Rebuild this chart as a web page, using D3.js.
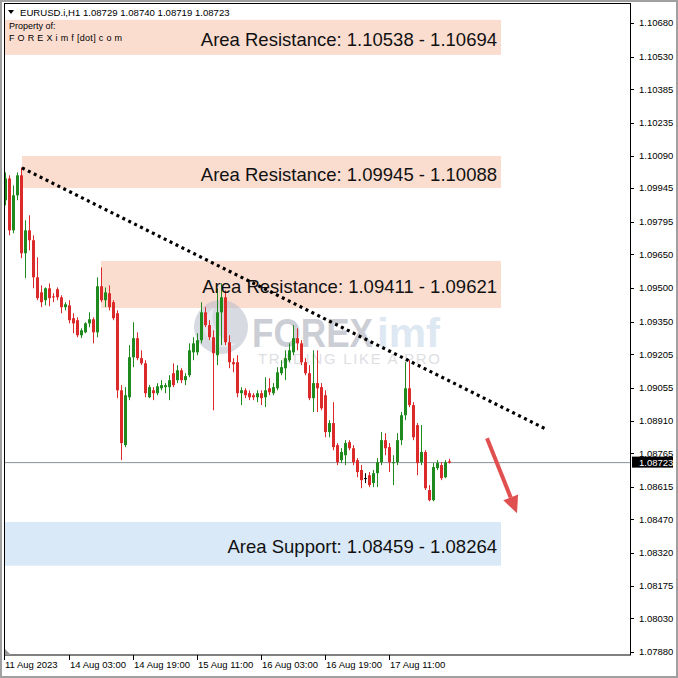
<!DOCTYPE html>
<html><head><meta charset="utf-8">
<script src="https://cdn.jsdelivr.net/npm/d3@7"></script>
<style>body{margin:0;background:#fff}svg{display:block}</style>
</head><body>
<svg id="c" width="678" height="678"></svg>
<script>
const opens=[1.09891,1.09988,1.09757,1.09913,1.10002,1.09655,1.09757,1.09713,1.09548,1.09481,1.09446,1.09499,1.09463,1.09495,1.09459,1.09415,1.09423,1.09366,1.09357,1.09290,1.09303,1.09343,1.09361,1.09303,1.09508,1.09446,1.09477,1.09437,1.09388,1.09045,1.08801,1.09014,1.09192,1.09277,1.09188,1.09165,1.09014,1.09045,1.09032,1.09054,1.09059,1.09059,1.09121,1.09090,1.09134,1.09090,1.09112,1.09214,1.09214,1.09268,1.09392,1.09335,1.09281,1.09201,1.09392,1.09459,1.09259,1.09170,1.09170,1.09032,1.09045,1.09032,1.09023,1.09014,1.09032,1.09014,1.09054,1.09032,1.09054,1.09121,1.09143,1.09179,1.09214,1.09277,1.09254,1.09170,1.09121,1.09010,1.09077,1.09059,1.09023,1.08859,1.08899,1.08801,1.08734,1.08756,1.08814,1.08787,1.08734,1.08690,1.08654,1.08667,1.08632,1.08676,1.08725,1.08823,1.08792,1.08721,1.08725,1.08823,1.08934,1.09054,1.08979,1.08890,1.08725,1.08770,1.08601,1.08556,1.08698,1.08712,1.08658,1.08729];
const highs=[1.10015,1.10002,1.09957,1.10015,1.10037,1.09802,1.09824,1.09735,1.09637,1.09512,1.09503,1.09521,1.09477,1.09503,1.09468,1.09437,1.09446,1.09388,1.09370,1.09321,1.09348,1.09392,1.09370,1.09548,1.09592,1.09503,1.09512,1.09446,1.09401,1.09068,1.09059,1.09246,1.09348,1.09303,1.09223,1.09179,1.09068,1.09059,1.09077,1.09090,1.09077,1.09112,1.09165,1.09157,1.09143,1.09121,1.09254,1.09281,1.09299,1.09437,1.09415,1.09357,1.09312,1.09499,1.09521,1.09490,1.09290,1.09188,1.09201,1.09059,1.09054,1.09045,1.09032,1.09045,1.09045,1.09103,1.09099,1.09077,1.09148,1.09179,1.09223,1.09254,1.09335,1.09321,1.09268,1.09188,1.09157,1.09223,1.09223,1.09077,1.09045,1.08912,1.08992,1.08810,1.08787,1.08823,1.08823,1.08801,1.08743,1.08712,1.08676,1.08681,1.08690,1.08743,1.08859,1.08854,1.08810,1.08756,1.08854,1.08948,1.09170,1.09179,1.08992,1.08899,1.08890,1.08778,1.08623,1.08721,1.08734,1.08725,1.08734,1.08740];
const lows=[1.09868,1.09735,1.09744,1.09891,1.09633,1.09544,1.09668,1.09499,1.09446,1.09415,1.09423,1.09419,1.09437,1.09446,1.09388,1.09401,1.09343,1.09299,1.09281,1.09277,1.09299,1.09326,1.09254,1.09281,1.09437,1.09415,1.09401,1.09357,1.09010,1.08734,1.08792,1.09001,1.09148,1.09179,1.09157,1.09014,1.09010,1.09001,1.09023,1.09045,1.09032,1.09001,1.09059,1.09077,1.09077,1.09068,1.09103,1.09179,1.09201,1.09254,1.09326,1.09268,1.08956,1.09157,1.09246,1.09246,1.09143,1.09125,1.09014,1.08979,1.09010,1.09001,1.09001,1.08992,1.08979,1.08970,1.09023,1.09023,1.09045,1.09112,1.09090,1.09170,1.09201,1.09223,1.09157,1.09112,1.09001,1.08948,1.08948,1.08956,1.08836,1.08836,1.08778,1.08712,1.08721,1.08712,1.08778,1.08712,1.08658,1.08609,1.08632,1.08614,1.08614,1.08614,1.08712,1.08756,1.08681,1.08623,1.08712,1.08801,1.08912,1.08970,1.08823,1.08667,1.08712,1.08601,1.08551,1.08551,1.08690,1.08645,1.08654,1.08719];
const closes=[1.09988,1.09757,1.09913,1.10002,1.09655,1.09757,1.09713,1.09548,1.09455,1.09437,1.09499,1.09455,1.09459,1.09459,1.09415,1.09428,1.09357,1.09343,1.09290,1.09312,1.09343,1.09361,1.09303,1.09508,1.09446,1.09481,1.09415,1.09366,1.09045,1.08810,1.09023,1.09192,1.09277,1.09188,1.09165,1.09032,1.09059,1.09032,1.09063,1.09068,1.09068,1.09090,1.09068,1.09134,1.09090,1.09108,1.09223,1.09254,1.09268,1.09392,1.09335,1.09281,1.09210,1.09392,1.09459,1.09259,1.09170,1.09161,1.09032,1.09045,1.09023,1.09014,1.09014,1.09032,1.09010,1.09045,1.09036,1.09059,1.09125,1.09148,1.09188,1.09223,1.09277,1.09254,1.09170,1.09121,1.09010,1.09077,1.09054,1.08965,1.08859,1.08899,1.08792,1.08725,1.08770,1.08810,1.08787,1.08725,1.08681,1.08645,1.08654,1.08623,1.08676,1.08725,1.08823,1.08787,1.08725,1.08725,1.08823,1.08934,1.09054,1.08979,1.08836,1.08721,1.08770,1.08609,1.08556,1.08703,1.08721,1.08654,1.08725,1.08723];

const timeLabels=["11 Aug 2023","14 Aug 03:00","14 Aug 19:00","15 Aug 11:00","16 Aug 03:00","16 Aug 19:00","17 Aug 11:00"];
const timeLabelBars=[-0.25,16,32,48,64,80,96];
const priceTicks=[1.10680,1.10530,1.10385,1.10235,1.10090,1.09945,1.09795,1.09650,1.09500,1.09350,1.09205,1.09055,1.08910,1.08765,1.08615,1.08470,1.08320,1.08175,1.08030,1.07880];

const zoneLow=[1.10538,1.09945,1.09411,1.08264];
const zoneHigh=[1.10694,1.10088,1.09621,1.08459];
const zoneStartBar=[-0.25,4.25,24,-0.25];
const zoneEndBar=[124,124,124,124];
const zoneLabels=["Area Resistance: 1.10538 - 1.10694","Area Resistance: 1.09945 - 1.10088","Area Resistance: 1.09411 - 1.09621","Area Support: 1.08459 - 1.08264"];
const zoneKind=["res","res","res","sup"];

const trendBars=[4.25,135.5];
const trendPrices=[1.10035,1.08870];
const arrowBars=[120.5,128];
const arrowPrices=[1.08832,1.08498];

const symbol="EURUSD.i,H1";
const lastOHLC=[1.08729,1.08740,1.08719,1.08723];
const currentPrice=1.08723;

const svg=d3.select("#c");
const L=4,R=630,T=3.5,B=655;
const x=d3.scaleLinear().domain([-0.25,156.25]).range([L,R]);
const y=d3.scaleLinear().domain([1.07880,1.10680]).range([652,23]);

svg.append("rect").attr("width",678).attr("height",678).attr("fill","#fff");
svg.append("defs").append("clipPath").attr("id","pa").append("rect")
  .attr("x",L).attr("y",T).attr("width",R-L).attr("height",B-T);
const plot=svg.append("g").attr("clip-path","url(#pa)");

// zones
const zones=zoneLow.map((lo,i)=>({lo,hi:zoneHigh[i],s:zoneStartBar[i],e:zoneEndBar[i],t:zoneLabels[i],k:zoneKind[i]}));
plot.selectAll("rect.z").data(zones).join("rect")
  .attr("x",d=>x(d.s)).attr("width",d=>x(d.e)-x(d.s))
  .attr("y",d=>y(Math.max(d.lo,d.hi))).attr("height",d=>Math.abs(y(d.lo)-y(d.hi)))
  .attr("fill",d=>d.k==="res"?"#FBDDD0":"#D9E9F8");

// watermark
const wm=plot.append("g").attr("opacity",0.55);
wm.append("circle").attr("cx",221).attr("cy",327).attr("r",27).attr("fill","#b9bccb");
wm.append("path").attr("d","M214,308 a20,20 0 1 0 22,36 a27,27 0 0 1 -22,-36z").attr("fill","#d8dae3");
wm.append("text").attr("x",252).attr("y",347).attr("font-family","Liberation Sans, Arial").attr("font-weight","bold")
  .attr("font-size",41).attr("fill","#a3a7b4").attr("textLength",121).attr("lengthAdjust","spacingAndGlyphs").text("FOREX");
wm.append("text").attr("x",377).attr("y",347).attr("font-family","Liberation Sans, Arial").attr("font-weight","bold")
  .attr("font-size",41).attr("fill","#c3d6e8").attr("textLength",63).attr("lengthAdjust","spacingAndGlyphs").text("imf");
wm.append("text").attr("x",258).attr("y",364).attr("font-family","Liberation Sans, Arial")
  .attr("font-size",15).attr("fill","#c4c6cc").attr("textLength",182).attr("lengthAdjust","spacing").text("TRADING LIKE A PRO");

// current price line
plot.append("line").attr("x1",L).attr("x2",R).attr("y1",y(currentPrice)).attr("y2",y(currentPrice))
  .attr("stroke","#8a9199").attr("stroke-width",1);

// candles
const bars=opens.map((o,i)=>({i,o,h:highs[i],l:lows[i],c:closes[i]}));
const col=d=>d.c>d.o?"#1f8b1f":(d.c<d.o?"#dc2a2a":"#000");
const cg=plot.selectAll("g.k").data(bars).join("g");
cg.append("line").attr("x1",d=>Math.round(x(d.i))+0.5).attr("x2",d=>Math.round(x(d.i))+0.5)
  .attr("y1",d=>y(d.h)).attr("y2",d=>y(d.l)).attr("stroke",col).attr("stroke-width",1);
cg.append("rect").attr("x",d=>Math.round(x(d.i))-1).attr("width",3)
  .attr("y",d=>y(Math.max(d.o,d.c))).attr("height",d=>Math.max(1,Math.abs(y(d.o)-y(d.c))))
  .attr("fill",col);

// zone labels
plot.selectAll("text.zl").data(zones).join("text")
  .attr("x",497).attr("y",d=>(y(d.lo)+y(d.hi))/2).attr("dy",9)
  .attr("text-anchor","end").attr("font-family","Liberation Sans, Arial").attr("font-size",18.5)
  .attr("fill","#111").text(d=>d.t);

// trend line
plot.append("line").attr("x1",x(trendBars[0])).attr("y1",y(trendPrices[0]))
  .attr("x2",x(trendBars[1])).attr("y2",y(trendPrices[1]))
  .attr("stroke","#000").attr("stroke-width",3.2).attr("stroke-dasharray","3,3.6");

// arrow
const ax1=x(arrowBars[0]),ay1=y(arrowPrices[0]),ax2=x(arrowBars[1]),ay2=y(arrowPrices[1]);
const ang=Math.atan2(ay2-ay1,ax2-ax1);
const hl=17,hw=8;
const bx=ax2-hl*Math.cos(ang),by=ay2-hl*Math.sin(ang);
plot.append("line").attr("x1",ax1).attr("y1",ay1).attr("x2",bx).attr("y2",by)
  .attr("stroke","#e15050").attr("stroke-width",4);
plot.append("path").attr("d",`M${ax2},${ay2}L${bx+hw*Math.sin(ang)},${by-hw*Math.cos(ang)}L${bx-hw*Math.sin(ang)},${by+hw*Math.cos(ang)}Z`)
  .attr("fill","#e15050");

// header
const hdr=svg.append("g").attr("font-family","Liberation Sans, Arial").attr("fill","#000");
hdr.append("path").attr("d","M8,10 L14,10 L11,14 Z").attr("fill","#000");
hdr.append("text").attr("x",20).attr("y",16).attr("font-size",9.6).text(symbol+"  "+lastOHLC.map(v=>v.toFixed(5)).join(" "));
hdr.append("text").attr("x",9).attr("y",29).attr("font-size",9).text("Property of:");
hdr.append("text").attr("x",9).attr("y",41).attr("font-size",9).attr("textLength",113).text("F O R E X i m f [dot] c o m");

// frame
svg.append("rect").attr("x",L+0.5).attr("y",T).attr("width",R-L).attr("height",B-T)
  .attr("fill","none").attr("stroke","#000").attr("stroke-width",1);
svg.append("path").attr("d",`M${L+1},${B-6}L${L+1},${B}L${L+7},${B}Z`).attr("fill","#9a9a9a");

// y axis
const ya=svg.append("g").attr("font-family","Liberation Sans, Arial").attr("font-size",9.5).attr("fill","#000");
ya.selectAll("line").data(priceTicks).join("line")
  .attr("x1",R).attr("x2",R+4).attr("y1",d=>Math.round(y(d))+0.5).attr("y2",d=>Math.round(y(d))+0.5).attr("stroke","#000");
ya.selectAll("text").data(priceTicks).join("text")
  .attr("x",639).attr("y",d=>y(d)).attr("dy","0.35em").text(d=>d.toFixed(5));
const cy=y(currentPrice);
svg.append("rect").attr("x",632).attr("y",cy-6).attr("width",41).attr("height",11).attr("fill","#000");
svg.append("text").attr("x",639).attr("y",cy).attr("dy","0.35em").attr("font-family","Liberation Sans, Arial")
  .attr("font-size",9.5).attr("fill","#fff").text(currentPrice.toFixed(5));

// x axis
const xa=svg.append("g").attr("font-family","Liberation Sans, Arial").attr("font-size",9.5).attr("fill","#000");
xa.selectAll("line").data(timeLabelBars).join("line")
  .attr("x1",d=>Math.round(x(d))+0.5).attr("x2",d=>Math.round(x(d))+0.5).attr("y1",B).attr("y2",B+5).attr("stroke","#000");
xa.selectAll("text").data(timeLabels).join("text")
  .attr("x",(d,i)=>Math.round(x(timeLabelBars[i]))+1).attr("y",668).text(d=>d);

// outer window border
svg.append("rect").attr("x",1).attr("y",1).attr("width",676).attr("height",676)
  .attr("fill","none").attr("stroke","#a0a0a0").attr("stroke-width",2);
</script>
</body></html>
